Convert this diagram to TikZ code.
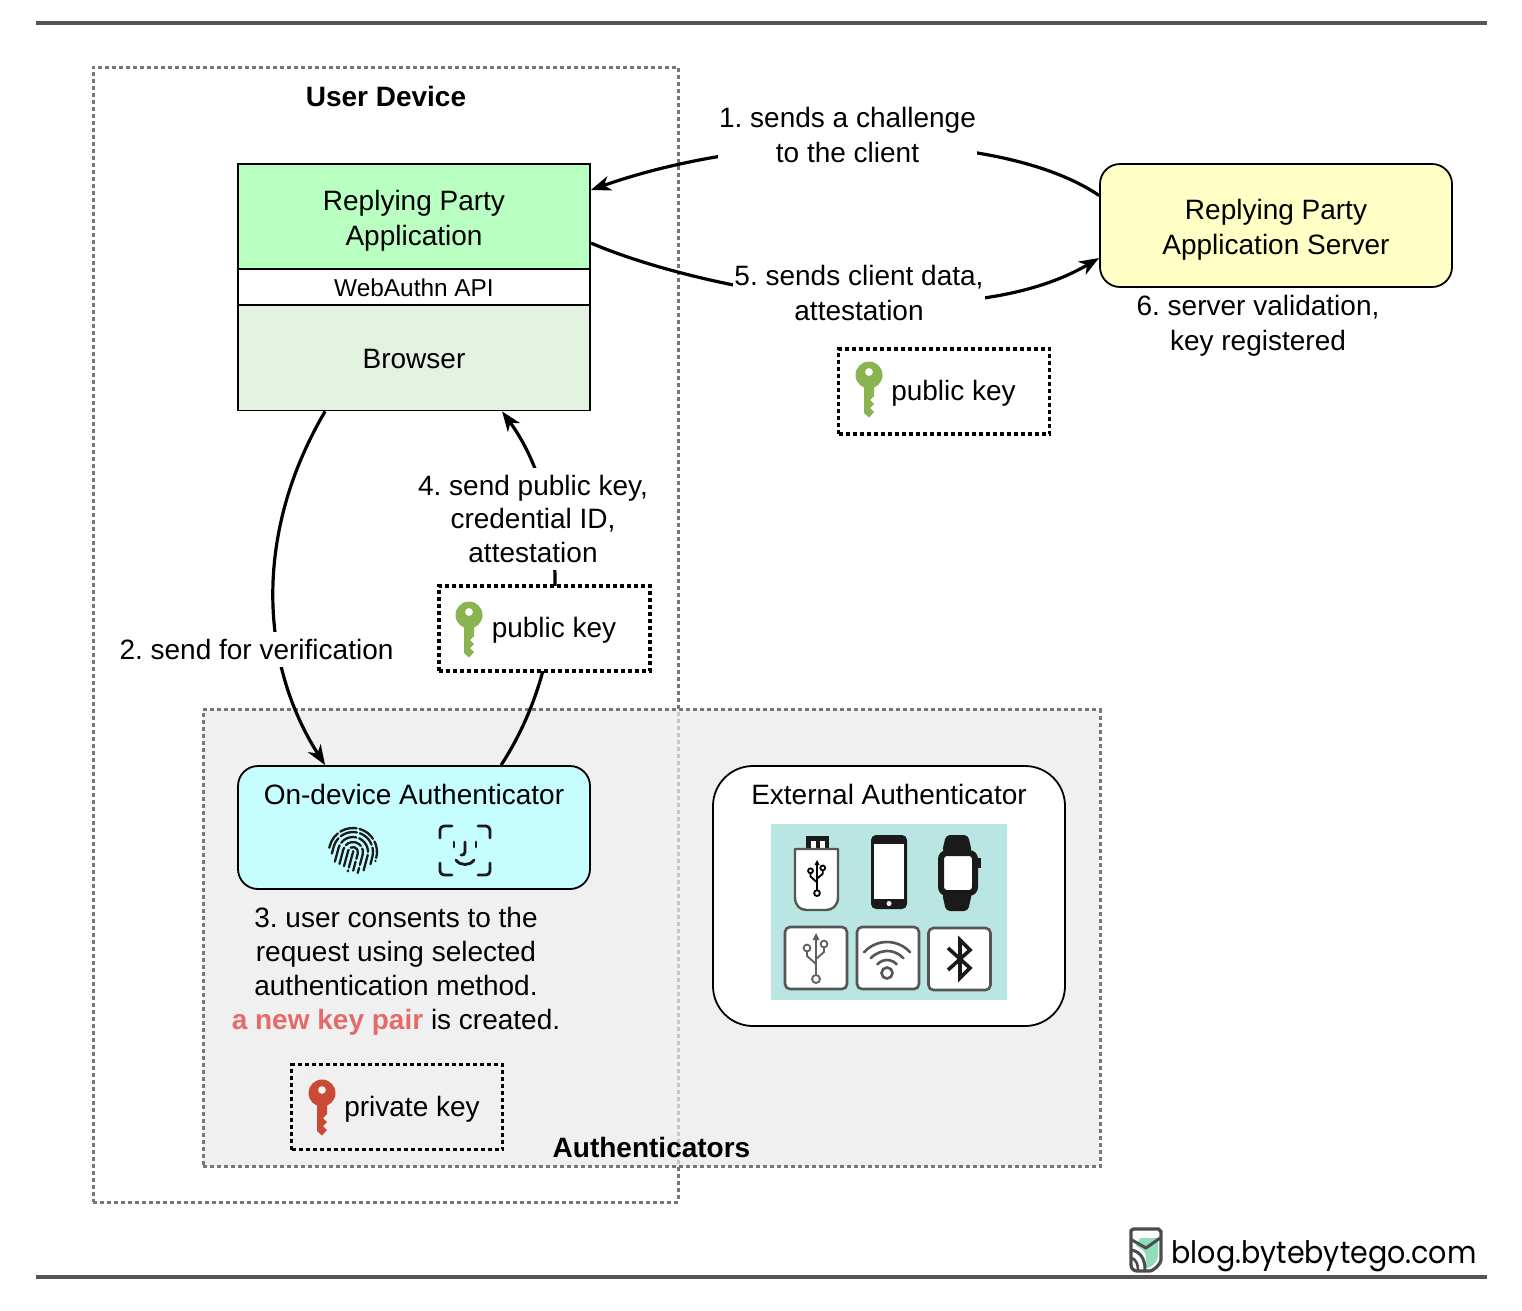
\documentclass[tikz,border=0pt]{standalone}
\usepackage{graphicx}
\usepackage{fontspec}
\setmainfont{Liberation Sans}
\newfontfamily\logofont{Poppins}
\usetikzlibrary{arrows.meta,calc}
\definecolor{rulegray}{HTML}{555555}
\definecolor{dashgray}{HTML}{777777}
\definecolor{panelgray}{HTML}{EAEAEA}
\definecolor{rpagreen}{HTML}{B9FFC1}
\definecolor{browsergreen}{HTML}{E4F2E1}
\definecolor{serveryellow}{HTML}{FFFFC6}
\definecolor{devicecyan}{HTML}{C6FDFF}
\definecolor{tealbg}{HTML}{B9E6E3}
\definecolor{keygreen}{HTML}{8AB44F}
\definecolor{keyred}{HTML}{CB4A35}
\definecolor{alertred}{HTML}{E36B6B}
\definecolor{logogreen}{HTML}{8FDDBB}
\definecolor{icondark}{HTML}{1A1A1A}
\tikzset{
  txt/.style={font=\fontsize{28}{35}\selectfont,align=center,text=black,inner sep=0pt},
  boxed/.style={draw=black,line width=1.8pt,minimum width=352pt,inner sep=0pt,txt},
  regionbox/.style={draw=dashgray,line width=3pt,dash pattern=on 4pt off 3pt},
  keybox/.style={draw=black,fill=white,line width=3.2pt,dash pattern=on 4pt off 3pt,minimum width=211pt,minimum height=85pt,inner sep=0pt},
  flow/.style={draw=black,line width=3.2pt,-{Stealth[length=20pt,width=15pt,inset=6pt]}},
  whitelabel/.style={txt,fill=white},
  icon/.style={draw=icondark,line width=3pt,line cap=round,line join=round},
  tile/.style={draw=rulegray,fill=white,line width=2.6pt,rounded corners=5pt},
  usbsym/.pic={
    \draw[draw=#1,line width=1.8pt] (0,-19)--(0,17);
    \fill[#1] (0,-25)--(3.5,-18)--(-3.5,-18)--cycle;
    \draw[draw=#1,line width=1.8pt] (0,6)--(-9,-2)--(-9,-7);
    \draw[draw=#1,line width=1.8pt] (0,1)--(8,-6)--(8,-11);
    \draw[draw=#1,line width=1.8pt] (-9,-10) circle (3.4);
    \draw[draw=#1,line width=1.8pt] (8,-14) circle (3.4);
    \draw[draw=#1,line width=1.8pt] (0,21) circle (4);
  },
  usbsym/.default=rulegray,
  keyicon/.pic={
    \fill[#1,even odd rule] (0,0) circle (13.5) (0,-3) circle (4);
    \fill[#1] (-5,8)--(-5,38)--(0,42.5)--(5,37)--(1,33)--(5,29)--(1,25)--(5,21)--(5,8)--cycle;
  }
}
\begin{document}
\frenchspacing
\begin{tikzpicture}[x=1pt,y=-1pt]
\useasboundingbox (0,0) rectangle (1522,1310);
\fill[white] (0,0) rectangle (1522,1310);
% page rules
\draw[rulegray,line width=3.2pt] (36,23)--(1487,23);
\draw[rulegray,line width=3.2pt] (36,1277)--(1487,1277);
% regions: the panel lies, half see-through, over the device outline
\node[regionbox,minimum width=585pt,minimum height=1135pt,inner sep=0pt] (deviceregion) at (385.5,634.5) {};
\node[regionbox,fill=panelgray,fill opacity=0.7,minimum width=897pt,minimum height=457pt,inner sep=0pt] (authregion) at (651.5,938) {};
% boxes
\node[boxed,fill=rpagreen,minimum height=105pt] (rpa) at (414,216.5) {};
\node[txt] (rpatext) at (414,220.5) {Replying Party\\Application};
\node[boxed,fill=white,minimum height=36pt] (api) at (414,287) {};
\node[txt,font=\fontsize{24.4}{30}\selectfont] (apitext) at (414,288) {WebAuthn API};
\node[boxed,fill=browsergreen,minimum height=105pt] (browser) at (414,358) {};
\node[txt] (browsertext) at (414,359) {Browser};
\node[boxed,fill=serveryellow,rounded corners=20pt,minimum height=123pt] (server) at (1276,225.5) {};
\node[txt] (servertext) at (1276,229.5) {Replying Party\\Application Server};
\node[boxed,fill=devicecyan,rounded corners=20pt,minimum height=123pt] (ondevice) at (414,827.5) {};
\node[txt] (ondevicetitle) at (414,794) {On-device Authenticator};
\node[boxed,fill=white,rounded corners=40pt,minimum height=260pt] (external) at (889,896) {};
\node[txt] (externaltitle) at (889,794) {External Authenticator};
% connectors
\draw[flow] ($(server.west)+(0,-30)$) .. controls (1000,128) and (760,130) .. ($(rpa.east)+(0,-26.5)$);
\draw[flow] ($(rpa.east)+(0,26.5)$) .. controls (700,290) and (960,340) .. ($(server.west)+(0,32.5)$);
\draw[flow] ($(browser.south west)+(88,0)$) .. controls (255,530) and (258,660) .. ($(ondevice.north west)+(88,0)$);
\draw[flow] ($(ondevice.north west)+(264,0)$) .. controls (576,650) and (567,500) .. ($(browser.south west)+(265,0)$);
% labels
\node[whitelabel,minimum width=259pt,minimum height=70pt] (step1) at (847.5,135) {1. sends a challenge\\to the client};
\node[whitelabel,minimum width=252pt,minimum height=70pt] (step5) at (859,293) {5. sends client data,\\attestation};
\node[txt] (step6) at (1258,325.5) {6. server validation,\\key registered};
\node[whitelabel,minimum width=277pt,minimum height=35pt] (step2) at (256.5,649) {2. send for verification};
\node[whitelabel,minimum width=232pt,minimum height=102pt,font=\fontsize{28}{33.5}\selectfont] (step4) at (533,518.5) {4. send public key,\\credential ID,\\attestation};
\node[txt,font=\fontsize{28}{34}\selectfont] (step3) at (396,971) {3. user consents to the\\request using selected\\authentication method.\\{\bfseries\color{alertred}a new key pair} is created.};
% key boxes
\node[keybox] (pubbox1) at (944,391.5) {};
\pic at (869,375) {keyicon=keygreen};
\node[txt] (pubtext1) at (953.5,393) {public key};
\node[keybox] (pubbox2) at (544.5,628.5) {};
\pic at (469,615) {keyicon=keygreen};
\node[txt] (pubtext2) at (554,630) {public key};
\node[keybox,fill=none] (privbox) at (397,1107) {};
\pic at (322,1093) {keyicon=keyred};
\node[txt] (privtext) at (412,1109) {private key};
% region titles
\node[txt,font=\bfseries\fontsize{28}{34}\selectfont] (devicetitle) at (386,96) {User Device};
\node[txt,font=\bfseries\fontsize{28}{34}\selectfont] (authtitle) at (651.5,1147) {Authenticators};
% fingerprint
\begin{scope}[shift={(353,852)},rotate=-15,icon,line width=2.3pt,dash pattern=on 17pt off 3pt]
  \foreach \r/\a/\b in {5/16/18,10/15/19,15/14/15,20/7/9,24/2/3}{
    \draw (-\r,\a) -- (-\r,0) arc[start angle=180,end angle=360,radius=\r] -- (\r,\b);
  }
  \draw (0,-1) -- (0,20);
\end{scope}
% face id
\begin{scope}[icon,line width=2.8pt]
  \draw (440,838)--(440,830) arc[start angle=180,end angle=270,radius=4] --(452,826);
  \draw (478,826)--(486,826) arc[start angle=-90,end angle=0,radius=4] --(490,838);
  \draw (440,863)--(440,871) arc[start angle=180,end angle=90,radius=4] --(452,875);
  \draw (478,875)--(486,875) arc[start angle=90,end angle=0,radius=4] --(490,863);
  \draw (454,842)--(454,847);
  \draw (476,842)--(476,847);
  \draw (465,842)--(465,852) .. controls (465,855) and (463,855) .. (461,855);
  \draw (456,860) .. controls (460,866) and (470,866) .. (474,860);
\end{scope}
% external devices picture
\fill[tealbg] (771,824) rectangle (1007,1000);
% usb stick
\fill[icondark] (806,836) rectangle (829,849);
\fill[white] (811,841) rectangle (816,849);
\fill[white] (820,841) rectangle (825,849);
\draw[icon,draw=rulegray,fill=white,line width=2.4pt] (795,849)--(838,849)--(838,897) .. controls (838,906) and (832,910) .. (826,910)--(807,910) .. controls (800,910) and (795,906) .. (795,897)--cycle;
\pic[scale=0.72] at (817,878) {usbsym};
% phone
\fill[icondark,rounded corners=5pt] (871,835) rectangle (907,909);
\fill[white] (874,844) rectangle (904,899);
\fill[white] (889,903.5) circle (2.5);
% watch
\fill[icondark,rounded corners=4pt] (946,835) -- (968,835) -- (972,852) -- (942,852) -- cycle;
\fill[icondark,rounded corners=4pt] (942,893) -- (972,893) -- (968,911) -- (946,911) -- cycle;
\fill[icondark] (976,858) rectangle (981,868);
\draw[draw=icondark,fill=white,line width=6pt,rounded corners=6pt] (941,853) rectangle (975,893);
% tiles
\node[tile,minimum width=62pt,minimum height=62pt,inner sep=0pt] (usbtile) at (816,958) {};
\pic at (816,958) {usbsym=icondark!70};
\node[tile,minimum width=62pt,minimum height=62pt,inner sep=0pt] (wifitile) at (888,958) {};
\draw[rulegray,line width=2.6pt] (887,973) circle (5.5);
\foreach \r in {13,22,31}{
  \draw[rulegray,line width=2.6pt,line cap=round] ($(887,973)+(-\r*0.74,-\r*0.67)$) arc[start angle=222,end angle=318,radius=\r];
}
\node[tile,minimum width=62pt,minimum height=62pt,inner sep=0pt] (bttile) at (959.5,959) {};
\draw[draw=icondark,line width=3.6pt,line join=miter] (948,948)--(970,968)--(960,978)--(960,940)--(970,950)--(948,970);
% logo
\fill[logogreen] (1140,1238) -- (1158,1238) -- (1158,1256) .. controls (1156,1266) and (1148,1268) .. (1146,1268) -- (1146,1258) .. controls (1146,1252) and (1142,1248) .. (1136,1246) -- cycle;
\draw[draw=rulegray!90!black,line width=3.2pt,rounded corners=6pt,line join=round] (1131,1236) .. controls (1131,1231) and (1134,1229) .. (1139,1229) -- (1153,1229) .. controls (1158,1229) and (1161,1232) .. (1161,1237) -- (1161,1254) .. controls (1161,1264) and (1153,1271) .. (1144,1271) -- (1131,1271) -- cycle;
\draw[draw=rulegray!90!black,line width=3pt,line join=round] (1132,1240) -- (1146,1248) -- (1160,1238);
\draw[draw=rulegray!90!black,line width=3pt] (1132,1250) .. controls (1140,1252) and (1145,1258) .. (1145,1270);
\draw[draw=rulegray!90!black,line width=2.6pt] (1132,1258) .. controls (1136,1260) and (1138,1264) .. (1138,1270);
\node[inner sep=0pt,anchor=center,text=black,font=\logofont\fontsize{31}{36}\selectfont] (logotext) at (1324,1256) {\scalebox{0.92}[1]{blog.bytebytego.com}};
\end{tikzpicture}
\end{document}
